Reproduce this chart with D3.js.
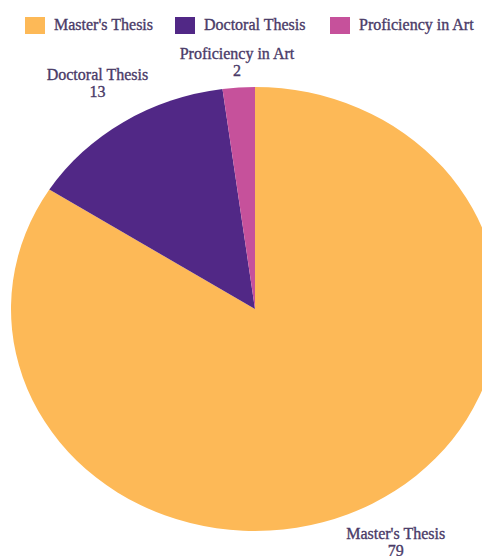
<!DOCTYPE html>
<html>
<head>
    <meta charset="utf-8" />
    <title>Thesis types</title>
    <script src="https://cdn.jsdelivr.net/npm/d3@7"></script>
    <style>
        body { margin: 0; background: #fff; }
        text { font-family: "Liberation Serif", "DejaVu Serif", serif; fill: #4a3b68; stroke: #4a3b68; stroke-width: 0.35px; }
    </style>
</head>
<body>
    <svg width="482" height="556"></svg>
    <script>
        // data
        var categories = ["Master's Thesis", "Doctoral Thesis", "Proficiency in Art"];
        var counts = [79, 13, 2];
        var colors = ["#fdb957", "#512886", "#c6519b"];

        var svg = d3.select("svg");
        var cx = 255, cy = 309;
        var R = 222, sx = 244 / 222; // the pie is a bit stretched sideways

        var pie = d3.pie().sort(null).value(function (d) { return d.v; });
        var arcs = pie(categories.map(function (c, i) { return { name: c, v: counts[i], color: colors[i] }; }));
        var arc = d3.arc().innerRadius(0).outerRadius(R);
        var labelArc = d3.arc().innerRadius(R * 1.2).outerRadius(R * 1.2);

        var g = svg.append("g").attr("transform", "translate(" + cx + "," + cy + ") scale(" + sx + ",1)");
        g.selectAll("path").data(arcs).enter().append("path")
            .attr("d", arc)
            .attr("fill", function (d) { return d.data.color; });

        // labels: name + value, kept below the legend
        var lab = svg.append("g");
        arcs.forEach(function (d) {
            var c = labelArc.centroid(d);
            var x = cx + c[0] * sx, y = Math.max(cy + c[1], 63);
            if (y === 63) x = cx + c[0] * sx * 0.92;
            var t = lab.append("text").attr("text-anchor", "middle").style("font-size", "16px");
            t.append("tspan").attr("x", x).attr("y", y - 4).text(d.data.name);
            t.append("tspan").attr("x", x).attr("y", y + 13).text(d.data.v);
        });

        // legend
        var legX = [25, 175, 330];
        var leg = svg.append("g");
        categories.forEach(function (c, i) {
            var it = leg.append("g").attr("transform", "translate(" + legX[i] + ",17)");
            it.append("rect").attr("width", 20).attr("height", 17).attr("fill", colors[i]);
            it.append("text").attr("x", 29).attr("y", 13).style("font-size", "16px").text(c);
        });
    </script>
</body>
</html>
